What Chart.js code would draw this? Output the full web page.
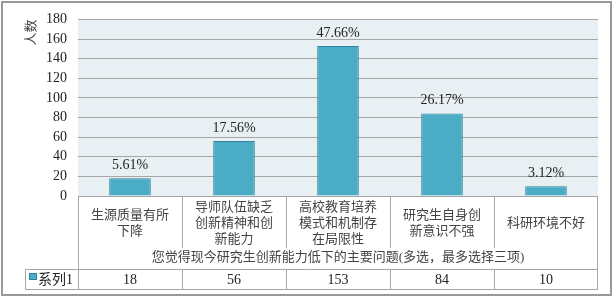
<!DOCTYPE html>
<html>
<head>
<meta charset="utf-8">
<script src="https://cdn.jsdelivr.net/npm/chart.js@4/dist/chart.umd.min.js"></script>
<style>
  body { margin: 0; background: #fff; }
</style>
</head>
<body>
<canvas id="myChart" width="614" height="298"></canvas>
<script>
const categories = [
  ["生源质量有所", "下降"],
  ["导师队伍缺乏", "创新精神和创", "新能力"],
  ["高校教育培养", "模式和机制存", "在局限性"],
  ["研究生自身创", "新意识不强"],
  ["科研环境不好"]
];
const counts = [18, 56, 153, 84, 10];
const percents = ["5.61%", "17.56%", "47.66%", "26.17%", "3.12%"];
const seriesName = "系列1";
const xTitle = "您觉得现今研究生创新能力低下的主要问题(多选，最多选择三项)";
const yTitle = "人数";

const fontFam = "'Liberation Serif', 'Noto Sans CJK SC', serif";
const barColor = "#4bacc6";
const lineGray = "#a6a6a6";

// background of plot, outer frame, data labels and the data table
const extras = {
  id: 'extras',
  beforeDraw(chart) {
    const ctx = chart.ctx, a = chart.chartArea;
    ctx.save();
    ctx.fillStyle = "#e9f0f4";
    ctx.fillRect(a.left, a.top, a.right - a.left, a.bottom - a.top);
    ctx.restore();
  },
  afterDraw(chart) {
    const ctx = chart.ctx, a = chart.chartArea;
    const xs = chart.scales.x;
    const meta = chart.getDatasetMeta(0);
    const half = (xs.getPixelForValue(1) - xs.getPixelForValue(0)) / 2;
    const tableTop = 269.5, tableBot = 289.5, labelBot = 248;
    ctx.save();

    // percent labels
    ctx.fillStyle = "#222";
    ctx.font = "14px " + fontFam;
    ctx.textAlign = "center";
    ctx.textBaseline = "bottom";
    meta.data.forEach((bar, i) => {
      ctx.fillText(percents[i], bar.x, bar.y - 6);
    });

    // table lines
    ctx.strokeStyle = lineGray;
    ctx.lineWidth = 1;
    ctx.beginPath();
    ctx.moveTo(a.left + 0.5, a.bottom); ctx.lineTo(a.left + 0.5, tableBot);
    ctx.moveTo(a.right - 0.5, a.bottom); ctx.lineTo(a.right - 0.5, tableBot);
    ctx.moveTo(a.left, a.bottom + 0.5); ctx.lineTo(a.right, a.bottom + 0.5);
    for (let i = 1; i < counts.length; i++) {
      const bx = Math.round(xs.getPixelForValue(i) - half) + 0.5;
      ctx.moveTo(bx, a.bottom); ctx.lineTo(bx, labelBot);
      ctx.moveTo(bx, tableTop); ctx.lineTo(bx, tableBot);
    }
    ctx.moveTo(25.5, tableTop); ctx.lineTo(a.right, tableTop);
    ctx.moveTo(25.5, tableBot); ctx.lineTo(a.right, tableBot);
    ctx.moveTo(25.5, tableTop); ctx.lineTo(25.5, tableBot);
    ctx.stroke();

    // legend key and values
    ctx.fillStyle = barColor;
    ctx.fillRect(29, 273, 8, 7);
    ctx.strokeStyle = "#31849b";
    ctx.strokeRect(29.5, 273.5, 7, 6);
    ctx.fillStyle = "#222";
    ctx.font = "14px " + fontFam;
    ctx.textAlign = "left";
    ctx.textBaseline = "middle";
    ctx.fillText(seriesName, 38, 280);
    ctx.textAlign = "center";
    counts.forEach((v, i) => {
      ctx.fillText(String(v), xs.getPixelForValue(i), 280);
    });

    // outer frame
    ctx.strokeStyle = "#999";
    ctx.lineWidth = 2;
    ctx.strokeRect(2, 2, 609, 293);
    ctx.restore();
  }
};

const data = {
  labels: categories,
  datasets: [{
    label: seriesName,
    data: counts,
    backgroundColor: barColor,
    borderColor: "#31849b",
    borderWidth: 1,
    barPercentage: 0.4,
    categoryPercentage: 1
  }]
};

const config = {
  type: 'bar',
  data: data,
  options: {
    responsive: false,
    animation: false,
    layout: { padding: { top: 16, right: 16, bottom: 0, left: 0 } },
    plugins: { legend: { display: false }, tooltip: { enabled: false } },
    scales: {
      x: {
        afterFit(s) { s.height = 102; },
        grid: { display: false, drawTicks: false },
        border: { display: false },
        ticks: {
          color: "#444",
          font: { family: fontFam, size: 13, lineHeight: 1.23 },
          padding: 12,
          crossAlign: 'center',
          maxRotation: 0,
          autoSkip: false
        },
        title: {
          display: true,
          text: xTitle,
          color: "#444",
          font: { family: fontFam, size: 13, lineHeight: 1.23 },
          padding: { top: 0, bottom: 32 }
        }
      },
      y: {
        min: 0,
        max: 180,
        afterFit(s) { s.width = 78; },
        grid: { color: lineGray, drawTicks: false },
        border: { display: false },
        ticks: {
          stepSize: 20,
          autoSkip: false,
          color: "#222",
          padding: 11,
          font: { family: fontFam, size: 14 }
        },
        title: {
          display: true,
          text: yTitle,
          align: 'end',
          color: "#444",
          font: { family: fontFam, size: 13, lineHeight: 1.23 },
          padding: { top: 24, bottom: 0 }
        }
      }
    }
  },
  plugins: [extras]
};

new Chart(document.getElementById('myChart'), config);
</script>
</body>
</html>
